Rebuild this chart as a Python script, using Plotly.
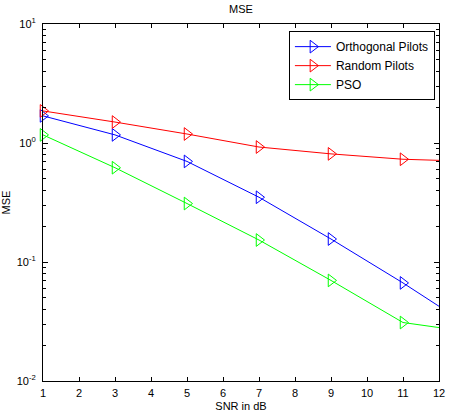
import plotly.graph_objects as go

snr = [1, 3, 5, 7, 9, 11, 13]
orthogonal = [1.69, 1.17, 0.70, 0.35, 0.156, 0.0667, 0.027]
random_p = [1.86, 1.50, 1.19, 0.925, 0.81, 0.73, 0.70]
pso = [1.17, 0.62, 0.31, 0.153, 0.070, 0.031, 0.0255]

series = [("Orthogonal Pilots", orthogonal, "#0000ff"),
          ("Random Pilots", random_p, "#ff0000"),
          ("PSO", pso, "#00ff00")]

minor_vals = [k * 10 ** e for e in (-2, -1, 0) for k in range(2, 10)]

fig = go.Figure()
for name, vals, col in series:
    fig.add_trace(go.Scatter(
        x=snr, y=vals, name=name, mode="lines+markers",
        line=dict(color=col, width=1),
        marker=dict(symbol="triangle-right-open", size=11, color=col, line=dict(width=1, color=col)),
        cliponaxis=False,
    ))

font = "Liberation Sans, Arial, sans-serif"
fig.update_layout(
    width=450, height=416,
    margin=dict(l=43, r=11, t=24, b=35),
    paper_bgcolor="white", plot_bgcolor="white",
    font=dict(family=font, size=11, color="black"),
    title=dict(text="MSE", x=0.5, xref="paper", y=1, yref="container", yanchor="top", pad=dict(t=5),
               font=dict(size=11, family=font)),
    showlegend=True,
    legend=dict(x=0.621, y=0.98, xanchor="left", yanchor="top",
                bordercolor="black", borderwidth=1, bgcolor="white",
                font=dict(size=12, family=font), tracegroupgap=0, itemwidth=36),
)
fig.update_xaxes(
    range=[1, 12], tickvals=list(range(1, 13)),
    ticks="inside", ticklen=4, tickcolor="black",
    showline=True, linecolor="black", linewidth=1, mirror="allticks",
    showgrid=False, zeroline=False, automargin=False,
    ticklabelstandoff=2,
    title=dict(text="SNR in dB", standoff=4, font=dict(size=11)),
    tickfont=dict(size=11),
)
fig.update_yaxes(
    type="log", range=[-2, 1],
    tickvals=[0.01, 0.1, 1, 10],
    ticktext=["10<sup>-2</sup>", "10<sup>-1</sup>", "10<sup>0</sup>", "10<sup>1</sup>"],
    ticks="inside", ticklen=5, tickcolor="black",
    minor=dict(ticks="inside", ticklen=3, tickcolor="black", showgrid=False, tickvals=minor_vals),
    showline=True, linecolor="black", linewidth=1, mirror="allticks",
    showgrid=False, zeroline=False, automargin=False,
    ticklabelstandoff=4,
    title=dict(text="MSE", standoff=4, font=dict(size=11)),
    tickfont=dict(size=11),
)
fig.write_html("out.html")
